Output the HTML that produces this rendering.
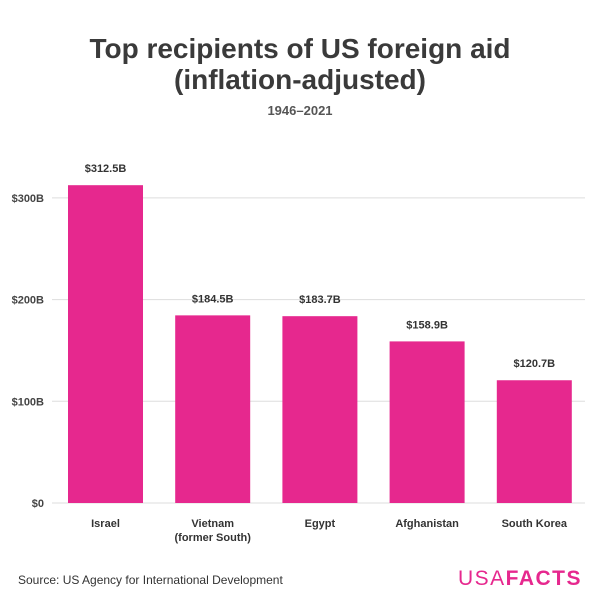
<!DOCTYPE html>
<html><head><meta charset="utf-8"><style>
body{margin:0;background:#fff;font-family:"Liberation Sans",sans-serif;}
#c{position:relative;width:600px;height:600px;overflow:hidden}
</style></head><body>
<div id="c">
<svg id="s" width="600" height="600">
<text x="300" y="58" text-anchor="middle" font-size="28" font-weight="bold" fill="#3a3a3a">Top recipients of US foreign aid</text>
<text x="300" y="89" text-anchor="middle" font-size="28" font-weight="bold" fill="#3a3a3a">(inflation-adjusted)</text>
<text x="300" y="115" text-anchor="middle" font-size="13" font-weight="bold" fill="#555">1946–2021</text>
<g id="grid"></g><g id="bars"></g>
<text x="18" y="584" font-size="12" fill="#333">Source: US Agency for International Development</text>
<text x="582" y="585" text-anchor="end" font-size="21" fill="#e6288e" letter-spacing="1.5"><tspan>USA</tspan><tspan font-weight="bold">FACTS</tspan></text>
</svg></div>
<script>
const categories=[["Israel"],["Vietnam","(former South)"],["Egypt"],["Afghanistan"],["South Korea"]];
const values=[312.5,184.5,183.7,158.9,120.7];
const valueLabels=["$312.5B","$184.5B","$183.7B","$158.9B","$120.7B"];
const ticks=[0,100,200,300];
const tickLabels=["$0","$100B","$200B","$300B"];
const NS="http://www.w3.org/2000/svg";
const y=v=>503-v*1.017;
const x=i=>68+i*107.2;
const bw=75;
function mk(t,a,p){const e=document.createElementNS(NS,t);for(const k in a)e.setAttribute(k,a[k]);p.appendChild(e);return e;}
const g=document.getElementById('grid'),b=document.getElementById('bars');
ticks.forEach((t,i)=>{
 const l=mk('line',{x1:52,x2:585,y1:y(t),y2:y(t),stroke:'#ddd','stroke-width':1},g);
 
 
 const tx=mk('text',{x:44,y:y(t)+4,'text-anchor':'end','font-size':11,'font-weight':'bold',fill:'#444'},g);
 tx.textContent=tickLabels[i];
 
 
});
values.forEach((v,i)=>{
 const r=mk('rect',{x:x(i),y:y(v),width:bw,height:503-y(v),fill:'#e6288e'},b);
 
 
 const vl=mk('text',{x:x(i)+bw/2,y:y(v)-13,'text-anchor':'middle','font-size':11,'font-weight':'bold',fill:'#333'},b);
 vl.textContent=valueLabels[i];
 
 
 categories[i].forEach((s,j)=>{
  const c=mk('text',{x:x(i)+bw/2,y:527+j*14,'text-anchor':'middle','font-size':11,'font-weight':'bold',fill:'#333'},b);
  c.textContent=s;
  
  
 });
});
</script>
</body></html>
